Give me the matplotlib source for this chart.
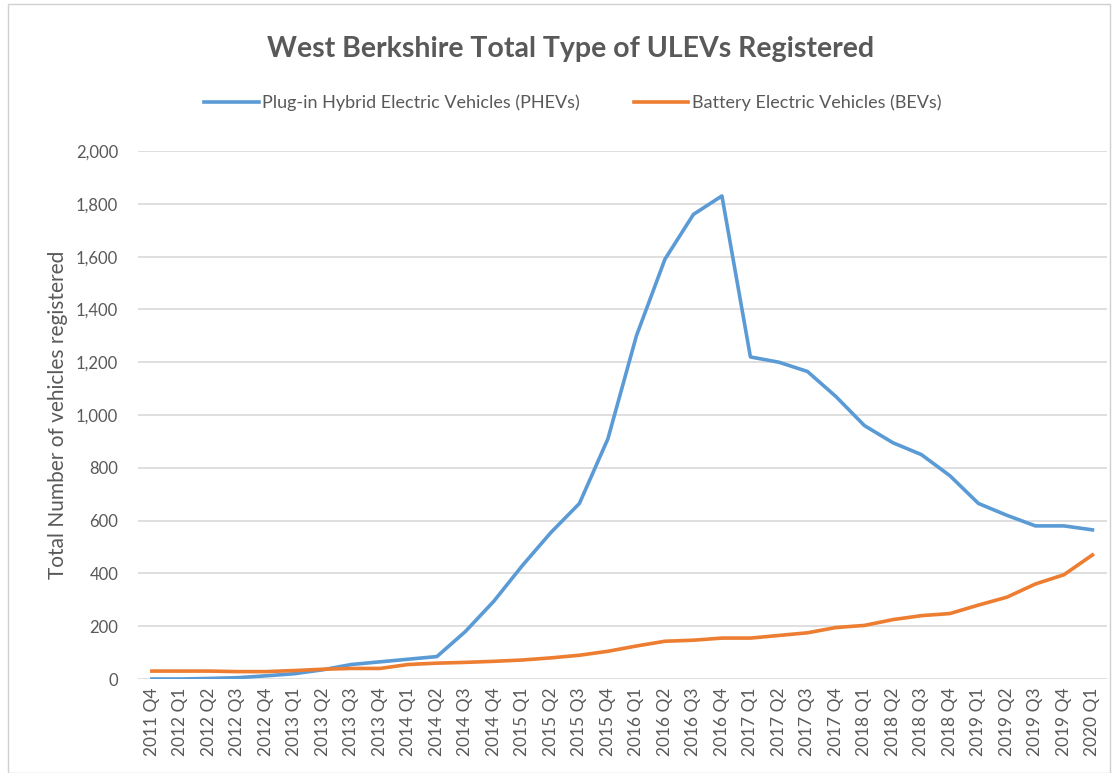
import numpy as np
import matplotlib.pyplot as plt
from matplotlib.ticker import FuncFormatter

# quarters 2011 Q4 .. 2020 Q1
quarters = ['2011 Q4']
for yr in range(2012, 2020):
    for q in range(1, 5):
        quarters.append('%d Q%d' % (yr, q))
quarters.append('2020 Q1')

phev = [0, 0, 2, 5, 12, 20, 35, 55, 65, 75, 85, 180, 295, 430, 555, 665,
        910, 1300, 1590, 1760, 1830, 1220, 1200, 1165, 1070, 960, 895, 850,
        770, 665, 620, 580, 580, 565]
bev = [30, 30, 30, 28, 28, 32, 37, 40, 40, 55, 60, 63, 67, 72, 80, 90,
       105, 125, 143, 147, 155, 155, 165, 175, 195, 203, 225, 240, 248, 280,
       310, 360, 395, 470]

txt = '#595959'
plt.rcParams['font.family'] = ['Lato', 'DejaVu Sans']

fig = plt.figure(figsize=(11.19, 7.73), dpi=100)
ax = fig.add_axes([0.123, 0.1216, 0.866, 0.683])

x = np.arange(len(quarters))
ax.plot(x, phev, color='#5B9BD5', lw=2.6, solid_joinstyle='round',
        label='Plug-in Hybrid Electric Vehicles (PHEVs)')
ax.plot(x, bev, color='#ED7D31', lw=2.6, solid_joinstyle='round',
        label='Battery Electric Vehicles (BEVs)')

ax.set_xlim(-0.5, len(quarters) - 0.5)
ax.set_ylim(0, 2000)
ax.set_yticks(np.arange(0, 2001, 200))
ax.yaxis.set_major_formatter(FuncFormatter(lambda v, p: '{:,.0f}'.format(v)))
ax.set_xticks(x)
ax.set_xticklabels(quarters, rotation=90)
ax.tick_params(axis='both', length=0, colors=txt)
ax.tick_params(axis='y', pad=14, labelsize=12)
ax.tick_params(axis='x', pad=6, labelsize=12.5)
ax.grid(axis='y', color='#D9D9D9', lw=1.2)
ax.set_axisbelow(True)
for s in ax.spines.values():
    s.set_visible(False)

ax.set_ylabel('Total Number of vehicles registered', fontsize=15,
              color=txt, labelpad=6)

fig.text(0.51, 0.937, 'West Berkshire Total Type of ULEVs Registered',
         ha='center', va='center', fontsize=20.5, fontweight='bold', color=txt)
fig.legend(loc='center', bbox_to_anchor=(0.512, 0.867), ncol=2, frameon=False,
           fontsize=13, labelcolor=txt, handlelength=3.0, columnspacing=3.0,
           handletextpad=0.2)

fig.patches.append(plt.Rectangle((0.007, 0.0), 0.985, 0.995, transform=fig.transFigure,
                                 fill=False, edgecolor='#D0D0D0', lw=1))

fig.savefig('out.png', dpi=100)
